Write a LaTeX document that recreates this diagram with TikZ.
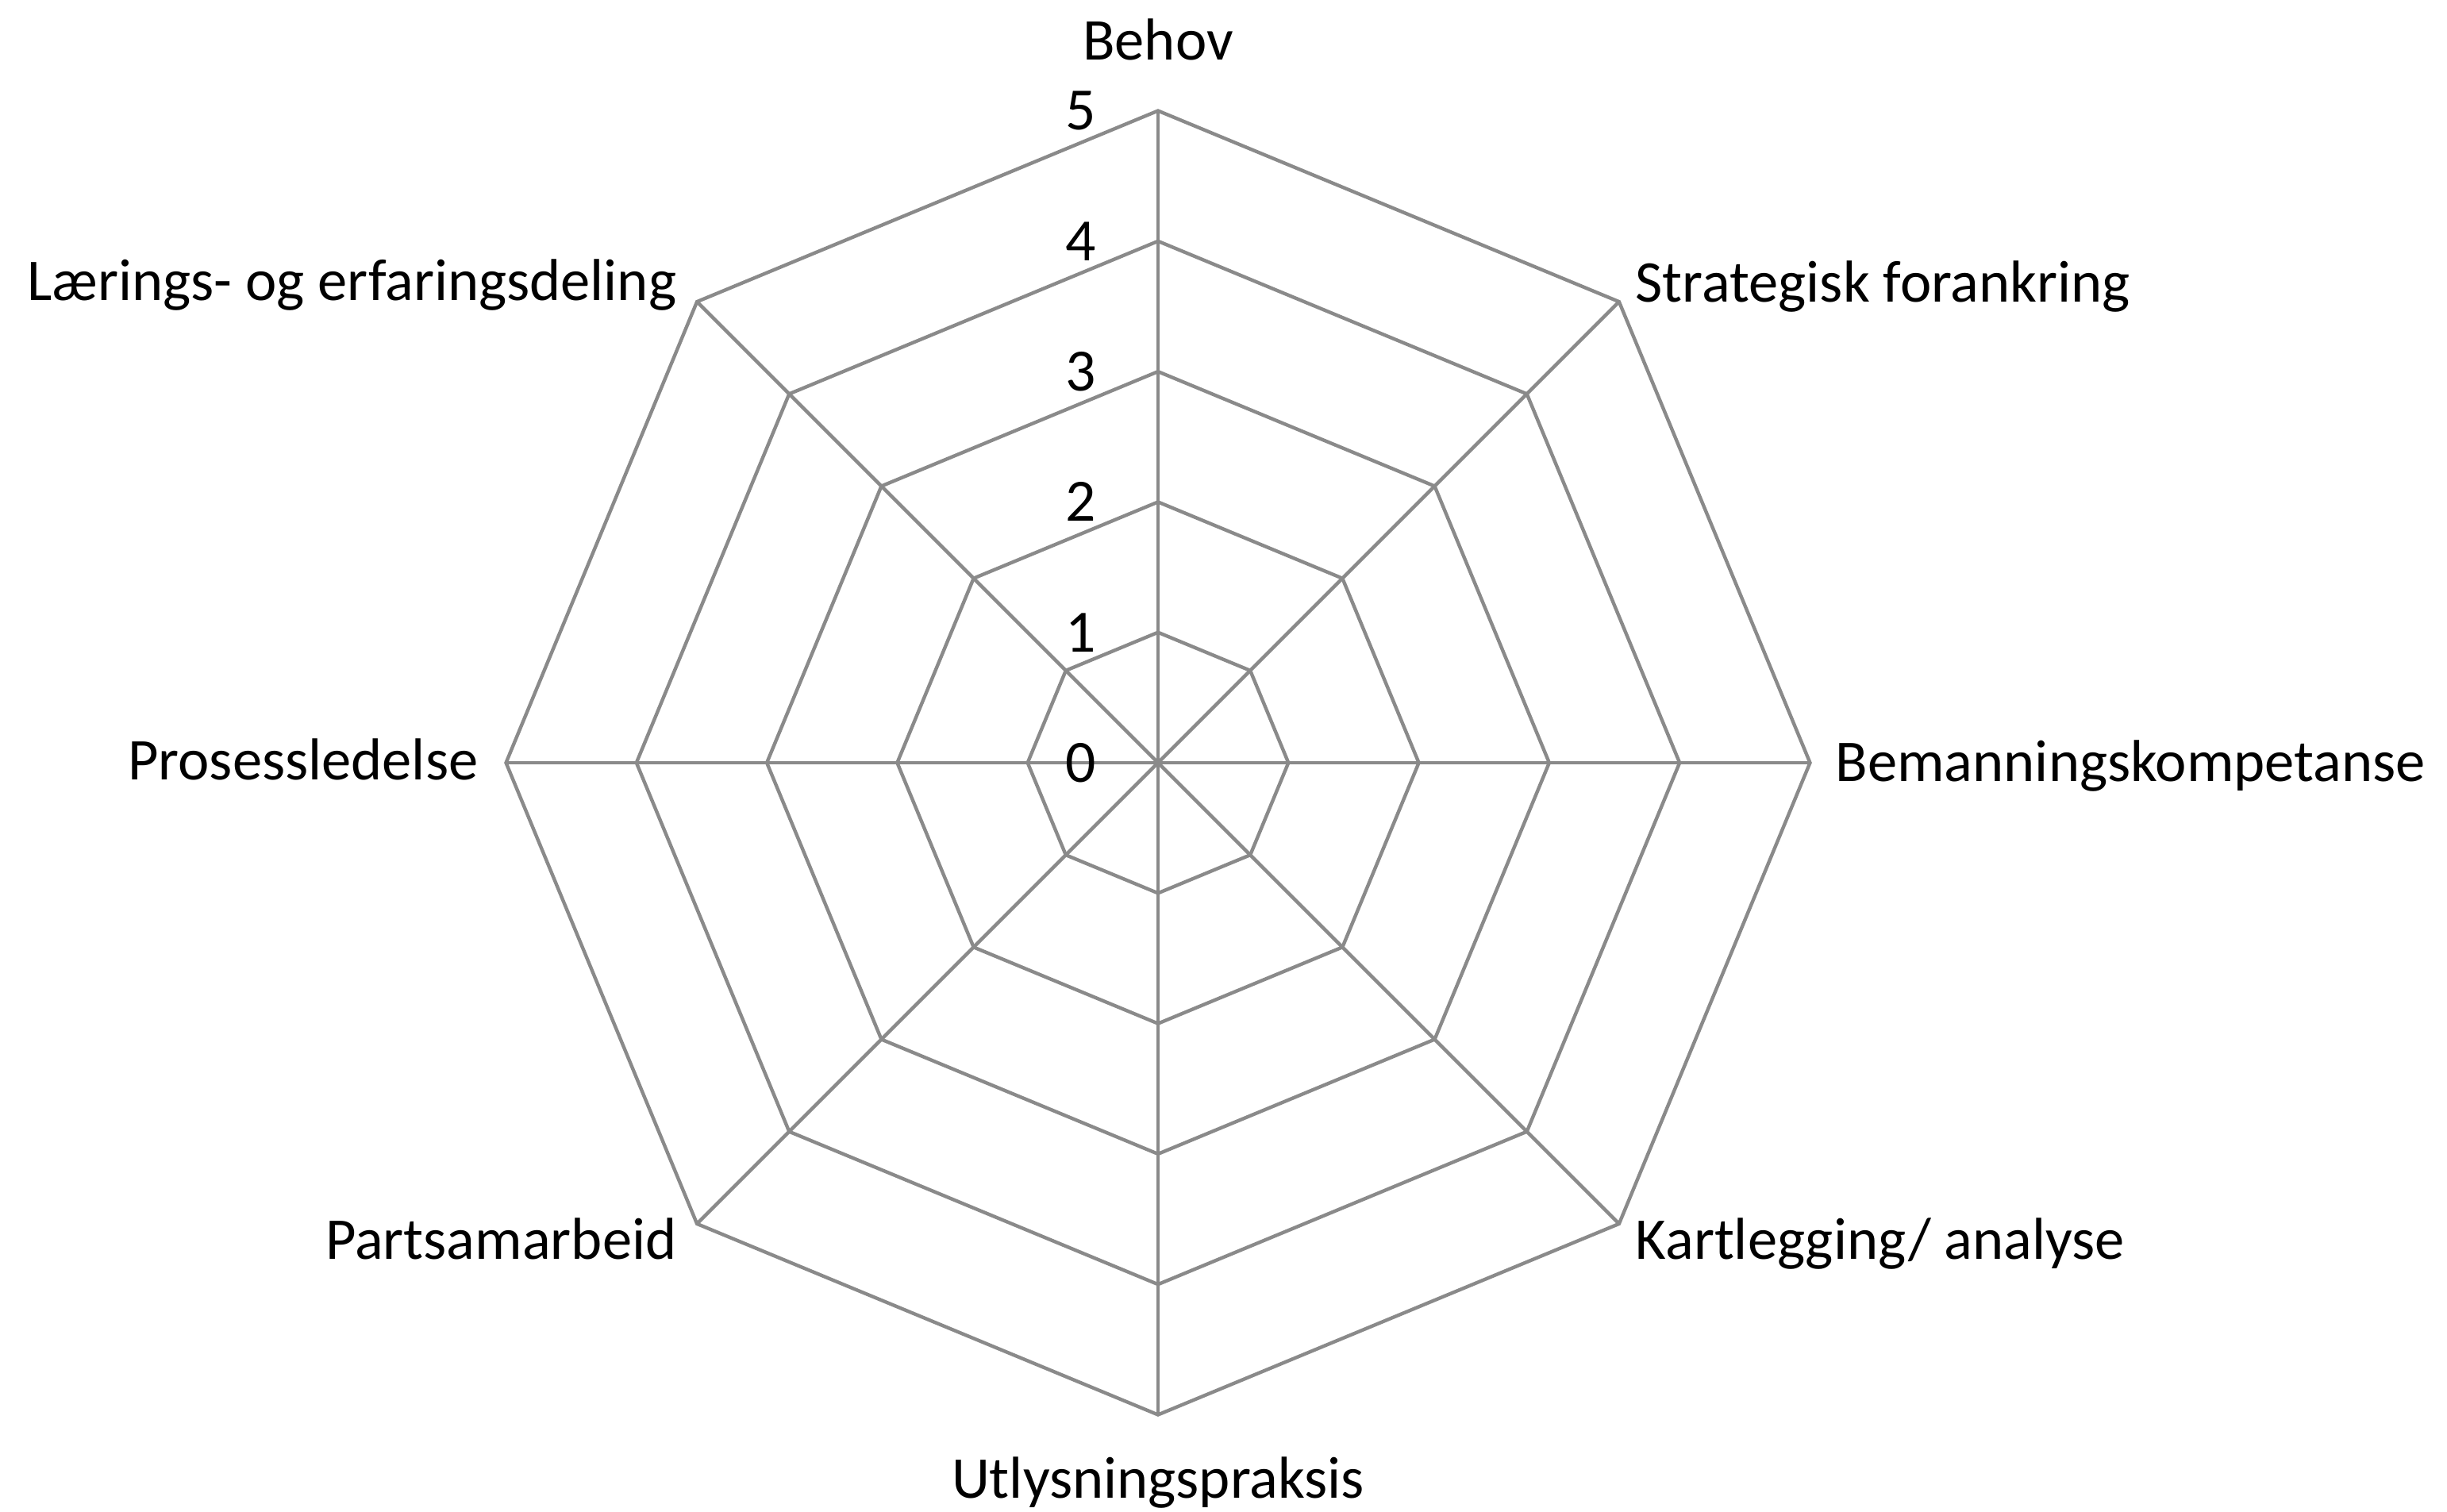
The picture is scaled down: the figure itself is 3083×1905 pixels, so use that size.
\documentclass[tikz,border=0pt]{standalone}
\usepackage{fontspec}
\setmainfont{Carlito}
\begin{document}
\begin{tikzpicture}[x=0.01cm,y=-0.01cm,
  gridline/.style={draw=black!46,line width=1.25pt,line join=miter},
  axislab/.style={font=\fontsize{21.2}{24}\selectfont,inner sep=0pt},
  ticklab/.style={font=\fontsize{21.5}{24}\selectfont,inner sep=0pt,anchor=east}]
\useasboundingbox (0,0) rectangle (3083,1905);
\coordinate (c) at (1459,961);
% spokes
\foreach \a [count=\i from 0] in {90,45,0,-45,-90,-135,180,135}{
  \coordinate (s\i) at ([shift={(\a:8.21cm)}]c);
  \draw[gridline] (c) -- (s\i);
}
% rings
\foreach \r in {1,...,5}{
  \draw[gridline] ([shift={(90:{1.642*\r cm})}]c)
    \foreach \a in {45,0,-45,-90,-135,180,135}{ -- ([shift={(\a:{1.642*\r cm})}]c)} -- cycle;
}
% tick labels
\foreach \r in {0,...,5}{
  \node[ticklab] (t\r) at ([shift={(-0.77cm,{1.642*\r cm})}]c) {\r};
}
% axis labels
\node[axislab,anchor=base] (l0) at (1459,75) {Behov};
\node[axislab,anchor=base west] (l1) at (2060,380) {Strategisk forankring};
\node[axislab,anchor=base west] (l2) at (2312,984) {Bemanningskompetanse};
\node[axislab,anchor=base west] (l3) at (2060,1586) {Kartlegging/ analyse};
\node[axislab,anchor=base] (l4) at (1459,1887) {Utlysningspraksis};
\node[axislab,anchor=base east] (l5) at (853,1586) {Partsamarbeid};
\node[axislab,anchor=base east] (l6) at (603,982) {Prosessledelse};
\node[axislab,anchor=base east] (l7) at (853,378) {Lærings- og erfaringsdeling};
\end{tikzpicture}
\end{document}
